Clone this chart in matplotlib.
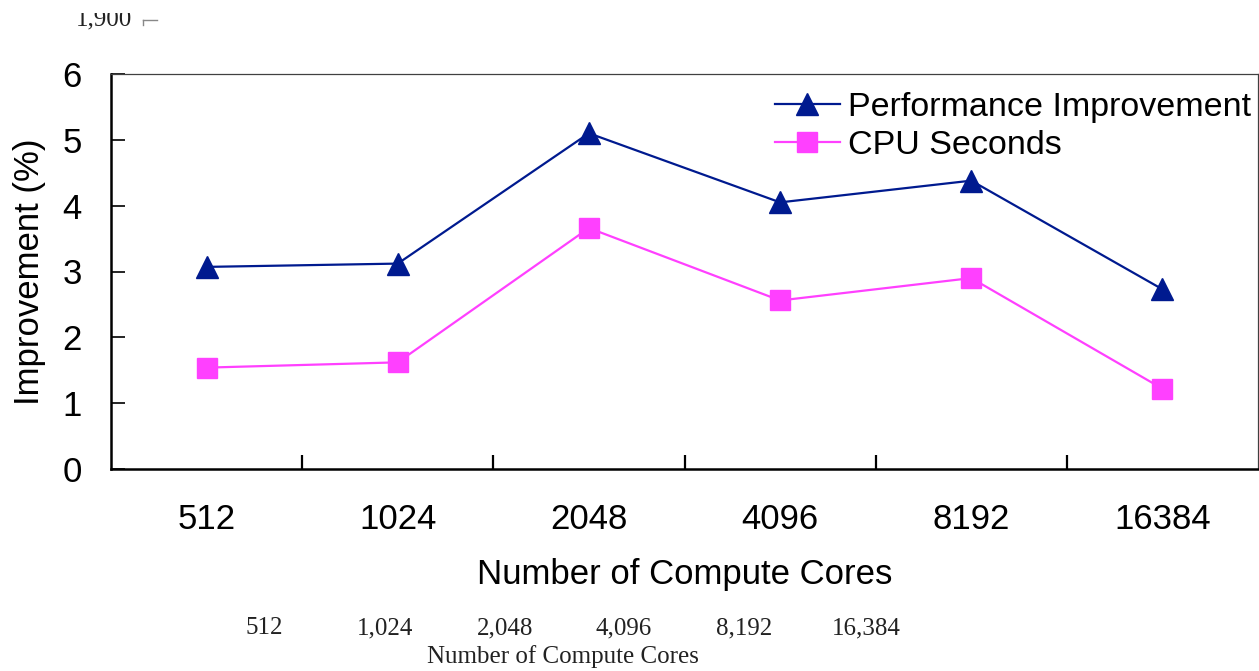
import matplotlib
matplotlib.use("Agg")
import matplotlib.pyplot as plt
from matplotlib.lines import Line2D
from matplotlib.patches import Rectangle

cores = ["512", "1024", "2048", "4096", "8192", "16384"]
perf_improvement = [3.07, 3.12, 5.10, 4.05, 4.38, 2.73]
cpu_seconds = [1.54, 1.62, 3.66, 2.56, 2.90, 1.22]

# leftover axis text from the figure underneath
under_ticks = ["512", "1,024", "2,048", "4,096", "8,192", "16,384"]
under_top_label = "1,900"

W, H = 1259, 671
plt.rcParams["font.family"] = ["Liberation Sans", "DejaVu Sans"]
FS = 25

fig = plt.figure(figsize=(W / 100, H / 100), dpi=100)
ax = fig.add_axes([111 / W, 1 - 469 / H, 1147 / W, 395 / H])

x = list(range(len(cores)))
ax.plot(x, perf_improvement, color="#001a8f", lw=1.6, marker="^", ms=16.5,
        mec="#001a8f", mfc="#001a8f", label="Performance Improvement", clip_on=False)
ax.plot(x, cpu_seconds, color="#ff40ff", lw=1.6, marker="s", ms=15,
        mec="#ff40ff", mfc="#ff40ff", label="CPU Seconds", clip_on=False)

ax.set_xlim(-0.5, len(cores) - 0.5)
ax.set_ylim(0, 6)
ax.set_yticks(range(7))
ax.set_xticks(x)
ax.set_xticklabels(cores)
ax.set_xticks([i + 0.5 for i in x[:-1]], minor=True)
ax.tick_params(axis="x", which="major", length=0, pad=24.7, labelsize=FS)
ax.tick_params(axis="x", which="minor", direction="in", length=10, width=1.6)
ax.tick_params(axis="y", direction="in", length=10, width=1.2, pad=21, labelsize=FS)

for side in ("left", "bottom"):
    ax.spines[side].set_linewidth(1.8)
    ax.spines[side].set_color("black")
for side in ("top", "right"):
    ax.spines[side].set_linewidth(0.9)
    ax.spines[side].set_color("#404040")

ax.set_xlabel("Number of Compute Cores", fontsize=FS, labelpad=15.5)
ax.set_ylabel("Improvement (%)", fontsize=FS, labelpad=12)

ax.legend(loc="upper left", bbox_to_anchor=(0.579, 0.955), frameon=False,
          fontsize=24.5, handlelength=1.9, handletextpad=0.23, borderpad=0,
          borderaxespad=0, labelspacing=0.2)

# ghost axis text beneath the chart
for lab, px in zip(under_ticks, [264, 385, 505, 624, 744, 866]):
    fig.text(px / W, 1 - 628 / H, lab, ha="center", va="center",
             family="Liberation Serif", fontsize=18, color="#222222")
fig.text(563 / W, 1 - 657 / H, "Number of Compute Cores", ha="center",
         va="center", family="Liberation Serif", fontsize=18, color="#222222")

fig.text(104 / W, 1 - 25 / H, under_top_label, ha="center", va="baseline",
         family="Liberation Serif", fontsize=18, color="#222222")
fig.add_artist(Rectangle((0, 1 - 13 / H), 1, 13 / H, transform=fig.transFigure,
                         facecolor="white", edgecolor="none", zorder=5))
fig.add_artist(Line2D([143 / W, 157 / W], [1 - 20 / H, 1 - 20 / H],
                      transform=fig.transFigure, color="#888888", lw=1))
fig.add_artist(Line2D([143 / W, 143 / W], [1 - 20 / H, 1 - 25 / H],
                      transform=fig.transFigure, color="#888888", lw=1))

fig.savefig("out.png", dpi=100)
